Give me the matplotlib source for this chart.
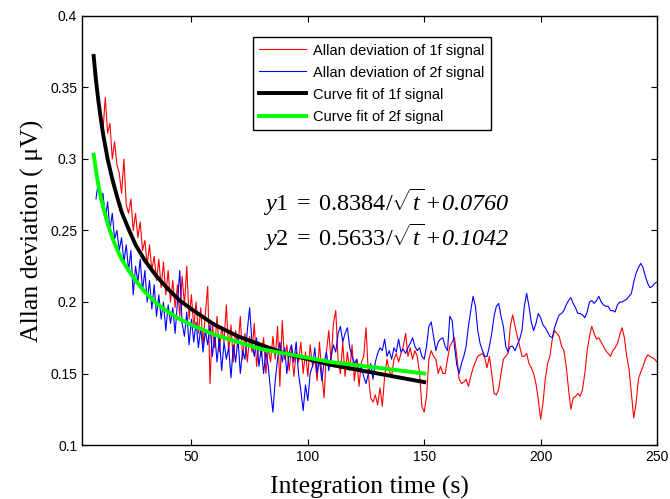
import numpy as np
import matplotlib
matplotlib.use("Agg")
import matplotlib.pyplot as plt

# integration time (s)
t_early = np.arange(8, 150)          # red 8..149
t_blue_early = np.arange(9, 150)     # blue 9..149
t_late = np.arange(150, 251)         # 150..250

red_early = [
    0.362, 0.352, 0.338, 0.330, 0.320, 0.343, 0.318, 0.325, 0.300, 0.312,
    0.296, 0.290, 0.276, 0.300, 0.268, 0.262, 0.272, 0.250, 0.262, 0.245,
    0.256, 0.236, 0.243, 0.226, 0.240, 0.222, 0.232, 0.215, 0.230, 0.210,
    0.228, 0.205, 0.222, 0.200, 0.215, 0.196, 0.212, 0.190, 0.218, 0.198,
    0.225, 0.188, 0.205, 0.182, 0.200, 0.178, 0.196, 0.170, 0.192, 0.211,
    0.143, 0.185, 0.168, 0.190, 0.165, 0.183, 0.172, 0.198, 0.165, 0.184,
    0.158, 0.180, 0.168, 0.190, 0.160, 0.178, 0.158, 0.176, 0.165, 0.185,
    0.155, 0.172, 0.162, 0.175, 0.150, 0.168, 0.158, 0.176, 0.160, 0.183,
    0.141, 0.187, 0.160, 0.170, 0.152, 0.168, 0.148, 0.165, 0.158, 0.172,
    0.150, 0.165, 0.148, 0.170, 0.155, 0.160, 0.145, 0.172, 0.150, 0.133,
    0.165, 0.180, 0.158, 0.185, 0.194, 0.160, 0.150, 0.172, 0.148, 0.165,
    0.152, 0.170, 0.145, 0.160, 0.141, 0.158, 0.162, 0.182, 0.150, 0.133,
    0.130, 0.135, 0.128, 0.140, 0.127, 0.148, 0.160, 0.152, 0.148, 0.160,
    0.164, 0.158, 0.164, 0.169, 0.178, 0.162, 0.168, 0.160, 0.166, 0.162,
    0.150, 0.127,
]

red_late = [
    0.123, 0.134, 0.160, 0.166, 0.162, 0.160, 0.150, 0.155, 0.150, 0.150,
    0.160, 0.169, 0.172, 0.175, 0.162, 0.146, 0.143, 0.144, 0.146, 0.141,
    0.148, 0.154, 0.158, 0.162, 0.163, 0.164, 0.161, 0.154, 0.162, 0.150,
    0.136, 0.135, 0.139, 0.150, 0.160, 0.162, 0.164, 0.183, 0.191, 0.183,
    0.176, 0.169, 0.162, 0.162, 0.164, 0.157, 0.154, 0.150, 0.143, 0.132,
    0.118, 0.129, 0.146, 0.157, 0.162, 0.174, 0.180, 0.178, 0.176, 0.169,
    0.166, 0.155, 0.139, 0.125, 0.133, 0.134, 0.136, 0.134, 0.139, 0.150,
    0.166, 0.176, 0.183, 0.178, 0.174, 0.175, 0.172, 0.169, 0.166, 0.164,
    0.162, 0.166, 0.168, 0.171, 0.177, 0.182, 0.175, 0.162, 0.153, 0.136,
    0.119, 0.129, 0.146, 0.151, 0.155, 0.160, 0.163, 0.162, 0.161, 0.160,
    0.158,
]

blue_early = [
    0.272, 0.284, 0.270, 0.276, 0.258, 0.270, 0.250, 0.262, 0.244, 0.250,
    0.236, 0.245, 0.228, 0.240, 0.222, 0.236, 0.205, 0.225, 0.214, 0.230,
    0.208, 0.222, 0.200, 0.215, 0.195, 0.212, 0.190, 0.205, 0.188, 0.200,
    0.180, 0.198, 0.185, 0.196, 0.178, 0.200, 0.222, 0.185, 0.176, 0.193,
    0.170, 0.188, 0.172, 0.186, 0.168, 0.182, 0.165, 0.180, 0.170, 0.184,
    0.162, 0.178, 0.158, 0.175, 0.152, 0.172, 0.160, 0.168, 0.147, 0.170,
    0.158, 0.175, 0.150, 0.166, 0.160, 0.180, 0.196, 0.172, 0.162, 0.175,
    0.155, 0.168, 0.150, 0.165, 0.155, 0.138, 0.123, 0.145, 0.160, 0.172,
    0.158, 0.168, 0.150, 0.165, 0.170, 0.158, 0.172, 0.150, 0.138, 0.124,
    0.142, 0.131, 0.150, 0.155, 0.168, 0.150, 0.160, 0.145, 0.158, 0.165,
    0.152, 0.162, 0.170, 0.165, 0.178, 0.183, 0.172, 0.178, 0.182, 0.168,
    0.162, 0.157, 0.160, 0.152, 0.155, 0.148, 0.143, 0.150, 0.157, 0.146,
    0.158, 0.164, 0.168, 0.166, 0.174, 0.162, 0.166, 0.160, 0.168, 0.165,
    0.174, 0.165, 0.167, 0.164, 0.168, 0.171, 0.175, 0.169, 0.166, 0.168,
    0.162,
]

blue_late = [
    0.160, 0.169, 0.183, 0.186, 0.176, 0.166, 0.172, 0.174, 0.175, 0.169,
    0.166, 0.190, 0.187, 0.169, 0.156, 0.150, 0.157, 0.162, 0.169, 0.183,
    0.194, 0.204, 0.197, 0.180, 0.171, 0.166, 0.162, 0.162, 0.169, 0.178,
    0.190, 0.197, 0.199, 0.190, 0.183, 0.169, 0.165, 0.169, 0.169, 0.166,
    0.170, 0.174, 0.180, 0.197, 0.206, 0.197, 0.186, 0.180, 0.185, 0.192,
    0.189, 0.184, 0.182, 0.179, 0.176, 0.175, 0.182, 0.187, 0.191, 0.192,
    0.194, 0.198, 0.201, 0.203, 0.199, 0.196, 0.192, 0.192, 0.191, 0.189,
    0.193, 0.200, 0.201, 0.199, 0.201, 0.204, 0.200, 0.198, 0.197, 0.197,
    0.194, 0.194, 0.193, 0.198, 0.200, 0.200, 0.201, 0.202, 0.204, 0.206,
    0.214, 0.220, 0.224, 0.227, 0.224, 0.218, 0.213, 0.210, 0.211, 0.213,
    0.214,
]

# curve fits
t_fit = [8, 9, 10, 11, 12, 14, 16, 18, 20, 23, 26, 30, 35, 40, 45, 50,
         60, 70, 80, 90, 100, 110, 120, 130, 140, 150]
fit_1f = [0.372, 0.355, 0.341, 0.329, 0.318, 0.300, 0.286, 0.274, 0.263,
          0.251, 0.240, 0.229, 0.218, 0.209, 0.201, 0.195, 0.184, 0.176,
          0.170, 0.164, 0.160, 0.156, 0.153, 0.150, 0.147, 0.144]
fit_2f = [0.303, 0.292, 0.282, 0.274, 0.267, 0.255, 0.245, 0.237, 0.230,
          0.222, 0.215, 0.207, 0.199, 0.193, 0.188, 0.184, 0.177, 0.172,
          0.167, 0.164, 0.161, 0.158, 0.156, 0.154, 0.152, 0.150]

t_red = np.concatenate([t_early, t_late])
red = np.array(red_early + red_late)
t_blue = np.concatenate([t_blue_early, t_late])
blue = np.array(blue_early + blue_late)

plt.rcParams['font.family'] = ['Liberation Sans', 'DejaVu Sans']
plt.rcParams['mathtext.fontset'] = 'custom'
plt.rcParams['mathtext.rm'] = 'Liberation Serif'
plt.rcParams['mathtext.it'] = 'Liberation Serif:italic'
plt.rcParams['mathtext.sf'] = 'Liberation Serif:italic'

fig = plt.figure(figsize=(6.7, 4.99), dpi=100)
ax = fig.add_axes([0.1224, 0.1082, 0.8582, 0.8598])

ax.plot(t_red, red, color='#ff0000', linewidth=0.8, label='Allan deviation of 1f signal')
ax.plot(t_blue, blue, color='#0000ff', linewidth=0.8, label='Allan deviation of 2f signal')
ax.plot(t_fit, fit_1f, color='black', linewidth=2.8, label='Curve fit of 1f signal')
ax.plot(t_fit, fit_2f, color='#00ff00', linewidth=2.8, label='Curve fit of 2f signal')

ax.set_xlim(3, 250)
ax.set_ylim(0.1, 0.4)
ax.set_xticks([50, 100, 150, 200, 250])
ax.set_yticks([0.1, 0.15, 0.2, 0.25, 0.3, 0.35, 0.4])
ax.set_yticklabels(['0.1', '0.15', '0.2', '0.25', '0.3', '0.35', '0.4'])
ax.tick_params(direction='in', top=True, right=True, length=4, labelsize=10)
for s in ax.spines.values():
    s.set_linewidth(1.0)

ax.set_xlabel('Integration time (s)', fontfamily='Liberation Serif', fontsize=18.5, labelpad=9)
ax.set_ylabel('Allan deviation ( μV)', fontfamily='Liberation Serif', fontsize=18.5, labelpad=4)

leg = ax.legend(loc='upper left', bbox_to_anchor=(0.297, 0.951), fontsize=10.5,
                handlelength=3.2, labelspacing=0.55, fancybox=False, borderaxespad=0,
                edgecolor='black', framealpha=1, borderpad=0.45, handletextpad=0.45)
leg.get_frame().set_linewidth(1.0)

ax.text(0.315, 0.565, r'$y1\;=\;0.8384/\sqrt{t}\,\mathsf{+0.0760}$', transform=ax.transAxes,
        fontsize=17.5, va='center')
ax.text(0.315, 0.485, r'$y2\;=\;0.5633/\sqrt{t}\,\mathsf{+0.1042}$', transform=ax.transAxes,
        fontsize=17.5, va='center')

fig.savefig('out.png', dpi=100)
